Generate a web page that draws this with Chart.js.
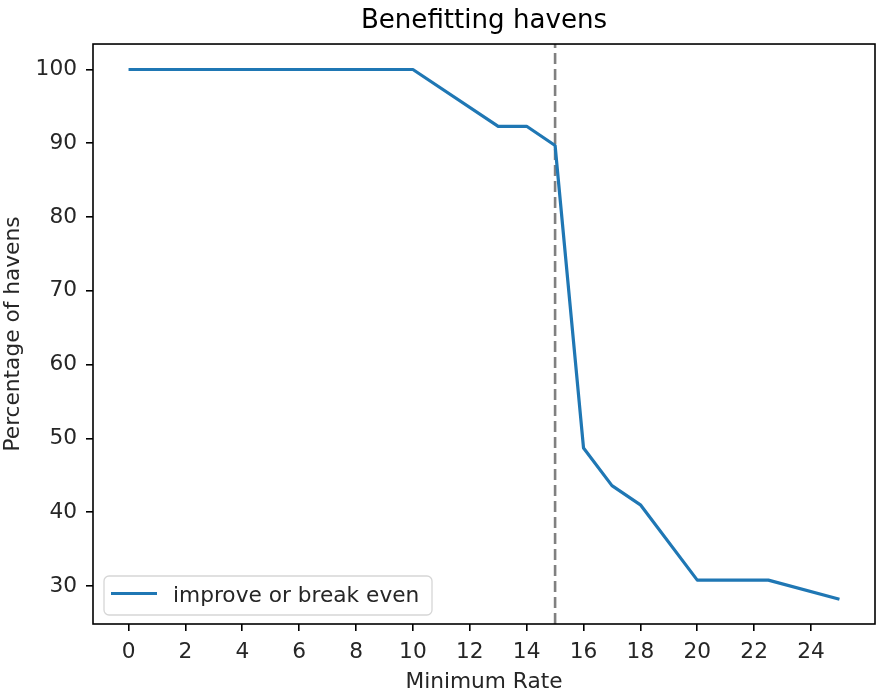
<!DOCTYPE html>
<html>
<head>
<meta charset="utf-8">
<script src="https://cdn.jsdelivr.net/npm/chart.js@4.4.1/dist/chart.umd.min.js"></script>
<style>
  html, body { margin: 0; padding: 0; background: #ffffff; }
  #c { display: block; }
</style>
</head>
<body>
<canvas id="c" width="877" height="693"></canvas>
<script>
// ---- data ----
const minimumRates = [0, 10, 13, 14, 15, 16, 17, 18, 20, 22.5, 25];
const improveOrBreakEven = [100, 100, 92.3, 92.3, 89.7, 48.7, 43.6, 41.0, 30.8, 30.8, 28.2];
const xTickValues = [0, 2, 4, 6, 8, 10, 12, 14, 16, 18, 20, 22, 24];
const yTickValues = [30, 40, 50, 60, 70, 80, 90, 100];
const thresholdRate = 15;
const seriesLabel = 'improve or break even';
const chartTitle = 'Benefitting havens';
const xAxisTitle = 'Minimum Rate';
const yAxisTitle = 'Percentage of havens';

const FONT = "'DejaVu Sans', 'Liberation Sans', sans-serif";
const LINE_COLOR = '#1f77b4';
const TEXT_SIZE = 21.7;

const frameAndExtras = {
  id: 'frameAndExtras',
  beforeDatasetsDraw(chart) {
    const { ctx, chartArea, scales } = chart;
    const x = scales.x.getPixelForValue(thresholdRate);
    ctx.save();
    ctx.strokeStyle = '#808080';
    ctx.lineWidth = 2.6;
    ctx.setLineDash([11, 5]);
    ctx.beginPath();
    ctx.moveTo(x, chartArea.bottom);
    ctx.lineTo(x, chartArea.top);
    ctx.stroke();
    ctx.restore();
  },
  afterDatasetsDraw(chart) {
    const { ctx, chartArea } = chart;
    ctx.save();
    // axes frame
    ctx.strokeStyle = '#000000';
    ctx.lineWidth = 1.6;
    ctx.strokeRect(chartArea.left, chartArea.top, chartArea.right - chartArea.left, chartArea.bottom - chartArea.top);

    // legend (lower left, inside the axes)
    const ds = chart.data.datasets[0];
    const bx = chartArea.left + 11;
    const by = chartArea.bottom - 9 - 39;
    const bw = 328, bh = 39, r = 5;
    ctx.beginPath();
    ctx.moveTo(bx + r, by);
    ctx.lineTo(bx + bw - r, by);
    ctx.arcTo(bx + bw, by, bx + bw, by + r, r);
    ctx.lineTo(bx + bw, by + bh - r);
    ctx.arcTo(bx + bw, by + bh, bx + bw - r, by + bh, r);
    ctx.lineTo(bx + r, by + bh);
    ctx.arcTo(bx, by + bh, bx, by + bh - r, r);
    ctx.lineTo(bx, by + r);
    ctx.arcTo(bx, by, bx + r, by, r);
    ctx.closePath();
    ctx.fillStyle = 'rgba(255,255,255,0.8)';
    ctx.fill();
    ctx.strokeStyle = '#d6d6d6';
    ctx.lineWidth = 1.3;
    ctx.stroke();

    ctx.strokeStyle = ds.borderColor;
    ctx.lineWidth = ds.borderWidth;
    ctx.beginPath();
    ctx.moveTo(bx + 7, by + 17.5);
    ctx.lineTo(bx + 53, by + 17.5);
    ctx.stroke();

    ctx.fillStyle = '#262626';
    ctx.font = TEXT_SIZE + 'px ' + FONT;
    ctx.textBaseline = 'alphabetic';
    ctx.textAlign = 'left';
    ctx.fillText(ds.label, bx + 69, by + 25.5);
    ctx.restore();
  }
};

new Chart(document.getElementById('c'), {
  type: 'line',
  data: {
    datasets: [{
      label: seriesLabel,
      data: minimumRates.map((r, i) => ({ x: r, y: improveOrBreakEven[i] })),
      borderColor: LINE_COLOR,
      backgroundColor: LINE_COLOR,
      borderWidth: 3.2,
      borderJoinStyle: 'round',
      pointRadius: 0,
      tension: 0,
      fill: false
    }]
  },
  options: {
    responsive: false,
    animation: false,
    devicePixelRatio: 1,
    layout: { padding: { left: 0, right: 2, top: 0, bottom: 0 } },
    plugins: {
      legend: { display: false },
      tooltip: { enabled: false },
      title: {
        display: true,
        fullSize: false,
        text: chartTitle,
        color: '#000000',
        font: { family: FONT, size: 26.1, weight: 'normal', lineHeight: 1.2 },
        padding: { top: 6, bottom: 6.7 }
      }
    },
    scales: {
      x: {
        type: 'linear',
        min: -1.25,
        max: 26.25,
        afterFit(scale) { scale.height = 69; },
        afterBuildTicks(scale) { scale.ticks = xTickValues.map(v => ({ value: v })); },
        grid: { display: true, drawOnChartArea: false, drawTicks: true, tickLength: 7, color: '#000000', lineWidth: 1.6 },
        border: { display: false },
        ticks: { color: '#262626', font: { family: FONT, size: TEXT_SIZE }, padding: 8, maxRotation: 0, autoSkip: false },
        title: { display: true, text: xAxisTitle, color: '#262626', font: { family: FONT, size: TEXT_SIZE, lineHeight: 1.0 }, padding: { top: 0, bottom: 0 } }
      },
      y: {
        type: 'linear',
        min: 24.85,
        max: 103.45,
        afterFit(scale) { scale.width = 93; },
        afterBuildTicks(scale) { scale.ticks = yTickValues.map(v => ({ value: v })); },
        grid: { display: true, drawOnChartArea: false, drawTicks: true, tickLength: 7, color: '#000000', lineWidth: 1.6 },
        border: { display: false },
        ticks: { color: '#262626', font: { family: FONT, size: TEXT_SIZE }, padding: 9, autoSkip: false },
        title: { display: true, text: yAxisTitle, color: '#262626', font: { family: FONT, size: TEXT_SIZE, lineHeight: 1.0 }, padding: { top: 3, bottom: 0 } }
      }
    }
  },
  plugins: [frameAndExtras]
});
</script>
</body>
</html>
